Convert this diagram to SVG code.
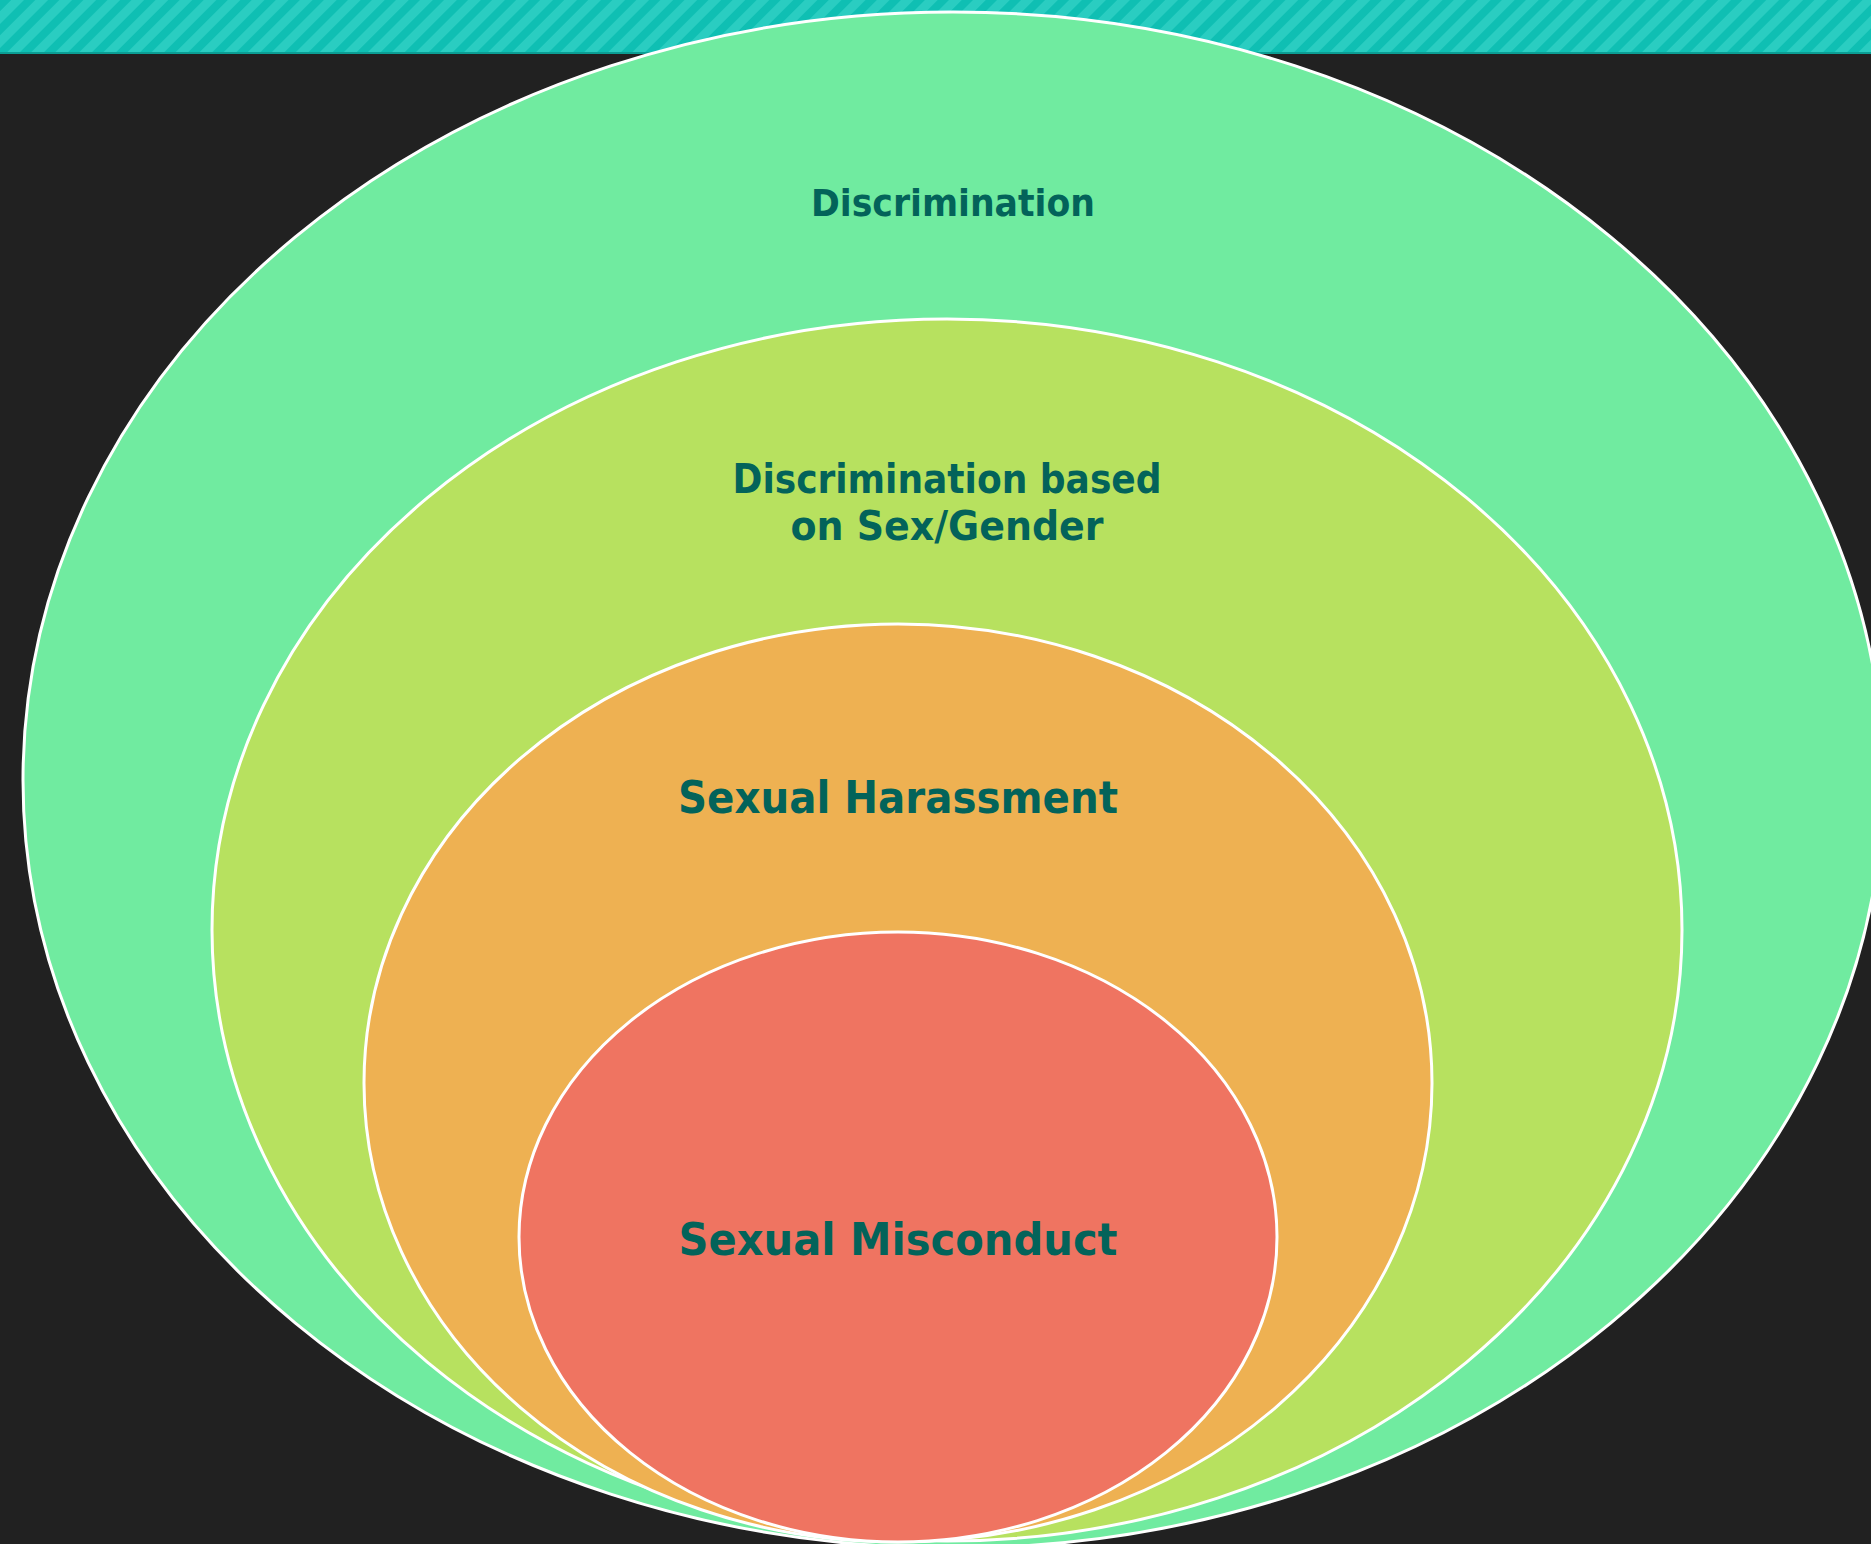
<svg xmlns="http://www.w3.org/2000/svg" width="1871" height="1544" viewBox="0 0 1871 1544">
<style>
.ring{stroke:#ffffff;stroke-width:3}
.lbl{font-family:"Century Gothic","DejaVu Sans","Liberation Sans",sans-serif;font-weight:bold;fill:#03635A;text-anchor:middle}
</style>
<defs>
<pattern id="stripes" width="17" height="17" patternUnits="userSpaceOnUse" patternTransform="rotate(45)">
<rect width="17" height="17" fill="#2ACDC1"/>
<rect width="8" height="17" fill="#0FBFB3"/>
</pattern>
</defs>
<rect width="1871" height="1544" fill="#212121"/>
<rect x="0" y="0" width="1871" height="53" fill="url(#stripes)"/>
<rect x="0" y="52" width="1871" height="2" fill="#0B9E94"/>
<g id="discrimination">
<ellipse class="ring" cx="953" cy="780" rx="930" ry="768" fill="#70EBA0"/>
<text class="lbl" x="953" y="216" font-size="38" textLength="284" lengthAdjust="spacingAndGlyphs">Discrimination</text>
</g>
<g id="sex-gender">
<ellipse class="ring" cx="947" cy="930" rx="735" ry="611" fill="#B7E15F"/>
<text class="lbl" x="947" y="493" font-size="40" textLength="429" lengthAdjust="spacingAndGlyphs">Discrimination based</text>
<text class="lbl" x="947" y="540" font-size="40" textLength="313" lengthAdjust="spacingAndGlyphs">on Sex/Gender</text>
</g>
<g id="harassment">
<ellipse class="ring" cx="898" cy="1083" rx="534" ry="459" fill="#EEB152"/>
<text class="lbl" x="898" y="813" font-size="44" textLength="440" lengthAdjust="spacingAndGlyphs">Sexual Harassment</text>
</g>
<g id="misconduct">
<ellipse class="ring" cx="898" cy="1237" rx="379" ry="305" fill="#EF7461"/>
<text class="lbl" x="898" y="1255" font-size="44" textLength="439" lengthAdjust="spacingAndGlyphs">Sexual Misconduct</text>
</g>
<g id="connectors"></g>
</svg>
